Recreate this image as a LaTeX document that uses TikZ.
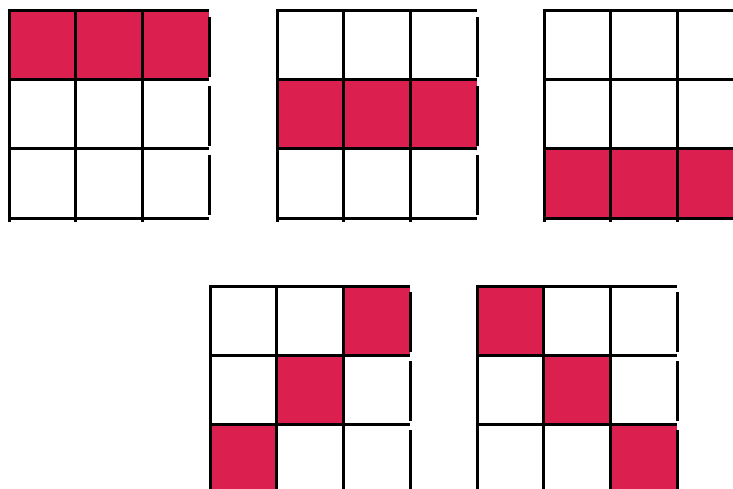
\documentclass[tikz,border=0pt]{standalone}
\definecolor{crim}{RGB}{219,32,80}
\tikzset{gridline/.style={line width=3pt,black}}
\newcommand{\mygrid}[3]{%
 \begin{scope}[shift={(#1,#2)}]
 \foreach \c/\r in {#3} {\fill[crim] (\c*66.7,\r*69) rectangle ++(66.7,69);}
 \foreach \r in {0,1,2,3} {\draw[gridline] (0,\r*69) -- (200,\r*69);}
 \foreach \c in {0,1,2} {\draw[gridline] (\c*66.7,-1.5) -- (\c*66.7,211);}
 \foreach \r in {0,1,2} {\draw[gridline] (200,\r*69+6) -- (200,\r*69+66);}
 \end{scope}}
\begin{document}
\begin{tikzpicture}[x=1pt,y=-1pt]
\useasboundingbox (0,0) rectangle (733,489);
\mygrid{9}{11}{0/0,1/0,2/0}
\mygrid{277}{11}{0/1,1/1,2/1}
\mygrid{544}{11}{0/2,1/2,2/2}
\mygrid{210}{286}{2/0,1/1,0/2}
\mygrid{477}{286}{0/0,1/1,2/2}
\end{tikzpicture}
\end{document}
